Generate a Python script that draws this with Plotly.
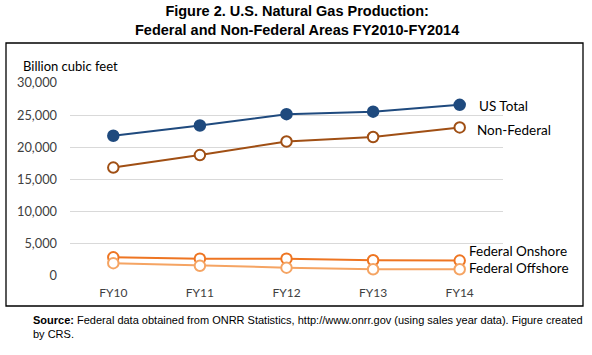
import plotly.graph_objects as go

categories = ["FY10", "FY11", "FY12", "FY13", "FY14"]
us_total = [21800, 23400, 25150, 25550, 26600]
non_federal = [16850, 18800, 20900, 21600, 23100]
fed_onshore = [2900, 2700, 2700, 2450, 2400]
fed_offshore = [2000, 1600, 1300, 1050, 1050]
y_ticks = [0, 5000, 10000, 15000, 20000, 25000, 30000]
series_names = ["US Total", "Non-Federal", "Federal Onshore", "Federal Offshore"]

font_fam = "Lato, 'Open Sans', Arial, sans-serif"

fig = go.Figure()

def add(vals, name, color, filled):
    fig.add_trace(go.Scatter(
        x=categories, y=vals, name=name, mode="lines+markers",
        line=dict(color=color, width=2),
        marker=dict(size=10.5, symbol="circle",
                    color=color if filled else "white",
                    line=dict(color=color, width=2)),
        cliponaxis=False, showlegend=False,
    ))
    return vals

add(us_total, series_names[0], "#1F4A7E", True)
add(non_federal, series_names[1], "#A04F14", False)
add(fed_onshore, series_names[2], "#EE7522", False)
add(fed_offshore, series_names[3], "#F5A463", False)

W, H = 592, 355
L, R, T, B = 70, 503, 83, 276

def px(x):
    return (x - L) / (R - L)

def py(y):
    return (B - y) / (B - T)

fig.update_layout(
    width=W, height=H,
    margin=dict(l=L, r=W - R, t=T, b=H - B),
    paper_bgcolor="white", plot_bgcolor="white",
    font=dict(family=font_fam, size=11, color="#404040"),
    xaxis=dict(type="category", range=[-0.5, 4.5], showgrid=False, showline=False,
               ticks="", tickfont=dict(size=12, color="#404040"), zeroline=False,
               ticklabelstandoff=8),
    yaxis=dict(range=[0, 30000], tickvals=y_ticks,
               ticktext=[f"{v:,}" for v in y_ticks],
               showgrid=True, gridcolor="#D9D9D9", gridwidth=1,
               zeroline=False, showline=False, ticks="",
               tickfont=dict(size=12.8, color="#404040"), ticklabelstandoff=12),
    shapes=[dict(type="rect", xref="paper", yref="paper",
                 x0=px(6), x1=px(583), y0=py(306), y1=py(43),
                 line=dict(color="black", width=1.3), fillcolor="rgba(0,0,0,0)")],
)

ann = []
ann.append(dict(text="<b>Figure 2. U.S. Natural Gas Production:</b><br><b>Federal and Non-Federal Areas FY2010-FY2014</b>",
                x=px(297), y=py(21), xref="paper", yref="paper", showarrow=False,
                font=dict(family="'Liberation Sans', Arial, sans-serif", size=14.5, color="black"),
                xanchor="center", yanchor="middle", align="center"))
ann.append(dict(text="Billion cubic feet", x=px(21), y=py(66), xref="paper", yref="paper",
                showarrow=False, xanchor="left", yanchor="middle",
                font=dict(size=13, color="black")))
labels = [(series_names[0], 477, 106), (series_names[1], 475, 130),
          (series_names[2], 467, 251), (series_names[3], 467, 268)]
for t, x, y in labels:
    ann.append(dict(text=t, x=px(x), y=py(y), xref="paper", yref="paper", showarrow=False,
                    xanchor="left", yanchor="middle", font=dict(size=13.5, color="black")))
ann.append(dict(text="<b>Source:</b> Federal data obtained from ONRR Statistics, http://www.onrr.gov (using sales year data). Figure created<br>by CRS.",
                x=px(31), y=py(327), xref="paper", yref="paper", showarrow=False,
                xanchor="left", yanchor="middle", align="left",
                font=dict(family="'Liberation Sans', Arial, sans-serif", size=11, color="black")))
fig.update_layout(annotations=ann)

fig.write_html("out.html", config={"displayModeBar": False},
               post_script="document.body.style.margin='0';document.body.style.padding='0';")
